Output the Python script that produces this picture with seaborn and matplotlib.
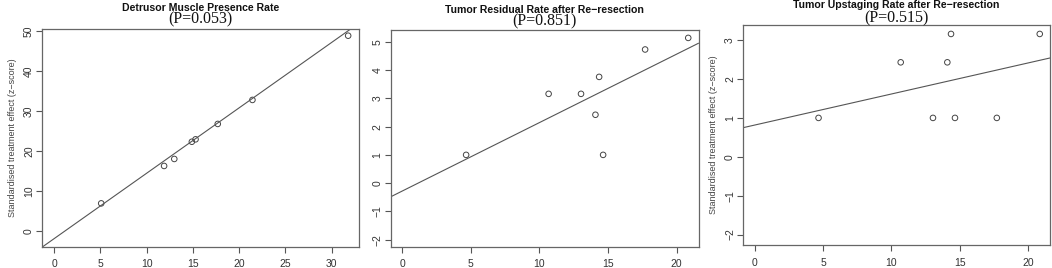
import numpy as np
import pandas as pd
import seaborn as sns
import matplotlib.pyplot as plt

# Galbraith-type plots: precision (1/SE) vs standardised effect (z-score)
titles = ["Detrusor Muscle Presence Rate",
          "Tumor Residual Rate after Re\u2212resection",
          "Tumor Upstaging Rate after Re\u2212resection"]
p_values = ["(P=0.053)", "(P=0.851)", "(P=0.515)"]

dm_x = [5.1, 11.9, 13.0, 14.9, 15.3, 17.7, 21.45, 31.8]
dm_z = [6.9, 16.25, 18.0, 22.3, 22.9, 26.75, 32.75, 48.8]

res_x = [4.67, 10.68, 13.04, 14.09, 14.36, 14.65, 17.71, 20.85]
res_z = [1.0, 3.16, 3.16, 2.42, 3.76, 1.0, 4.73, 5.14]

up_x = [4.67, 10.68, 13.04, 14.09, 14.36, 14.65, 17.71, 20.85]
up_z = [1.0, 2.43, 1.0, 2.43, 3.16, 1.0, 1.0, 3.16]

# fitted regression lines (intercept, slope)
fits = [(-1.93, 1.634), (-0.284, 0.2424), (0.816, 0.0799)]

sns.set_theme(style="white")
plt.rcParams['font.family'] = ['Liberation Sans', 'DejaVu Sans']

fig = plt.figure(figsize=(10.52, 2.68), dpi=100)
axes = [fig.add_axes([0.0402, 0.0784, 0.3013, 0.8123]),
        fig.add_axes([0.3717, 0.0784, 0.2923, 0.8097]),
        fig.add_axes([0.7066, 0.0858, 0.2915, 0.8209])]

data = [(dm_x, dm_z), (res_x, res_z), (up_x, up_z)]
xlims = [(-1.27, 33.0), (-0.8, 21.6), (-0.83, 21.6)]
ylims = [(-4.0, 50.4), (-2.26, 5.42), (-2.27, 3.39)]
xticks = [np.arange(0, 31, 5), np.arange(0, 21, 5), np.arange(0, 21, 5)]
yticks = [np.arange(0, 51, 10), np.arange(-2, 6, 1), np.arange(-2, 4, 1)]
ylabels = ["Standardised treatment effect (z\u2212score)", "",
           "Standardised treatment effect (z\u2212score)"]
title_y = [0.970, 0.962, 0.983]
p_y = [0.927, 0.920, 0.932]

for i, ax in enumerate(axes):
    df = pd.DataFrame({"precision": data[i][0], "z": data[i][1]})
    sns.scatterplot(data=df, x="precision", y="z", ax=ax, marker="o",
                    s=16, facecolors="none", edgecolor="#444444", linewidth=0.7)
    b0, b1 = fits[i]
    ax.axline((0, b0), slope=b1, color="#555555", linewidth=0.8)
    ax.set_xlim(*xlims[i])
    ax.set_ylim(*ylims[i])
    ax.set_xticks(xticks[i])
    ax.set_yticks(yticks[i])
    ax.set_xlabel("")
    ax.set_ylabel(ylabels[i], fontsize=6.5, color="#444444", labelpad=5)
    ax.tick_params(axis="both", direction="out", length=4, width=0.8,
                   color="#555555", labelsize=7.5, labelcolor="#333333",
                   bottom=True, left=True)
    ax.tick_params(axis="x", pad=5)
    ax.tick_params(axis="y", pad=2)
    for lab in ax.get_yticklabels():
        lab.set_rotation(90)
        lab.set_va("center")
    for sp in ax.spines.values():
        sp.set_color("#666666")
        sp.set_linewidth(0.9)
    bb = ax.get_position()
    cx = (bb.x0 + bb.x1) / 2
    fig.text(cx, title_y[i], titles[i], ha="center", va="center",
             fontsize=7.6, fontweight="bold", color="#111111")
    fig.text(cx, p_y[i], p_values[i], ha="center", va="center",
             fontsize=11.5, family="Liberation Serif", color="#111111")

fig.savefig("out.png", dpi=100)
